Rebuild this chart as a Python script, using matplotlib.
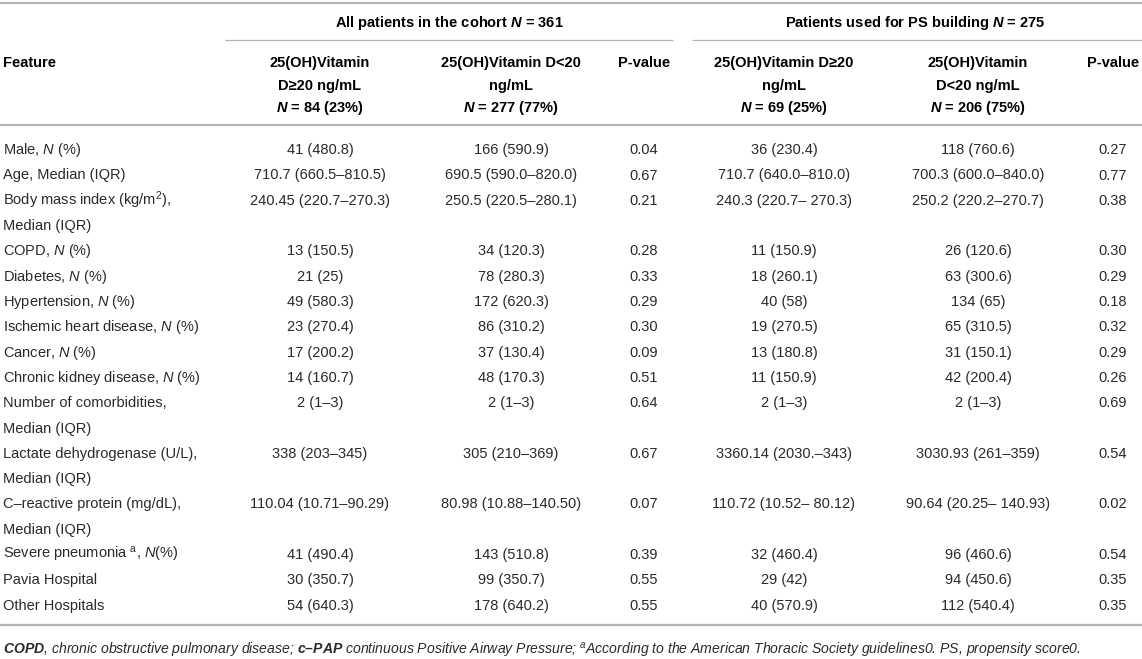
import matplotlib
matplotlib.use("Agg")
import matplotlib.pyplot as plt

plt.rcParams['font.family'] = ['Liberation Sans', 'DejaVu Sans']
plt.rcParams['mathtext.fontset'] = 'custom'
plt.rcParams['mathtext.rm'] = 'Liberation Sans'
plt.rcParams['mathtext.it'] = 'Liberation Sans:italic'
plt.rcParams['mathtext.bf'] = 'Liberation Sans:bold'
plt.rcParams['mathtext.bfit'] = 'Liberation Sans:italic:bold'

# ---------------- data ----------------
group_headers = ["All patients in the cohort $\\mathbfit{N}$ = 361",
                 "Patients used for PS building $\\mathbfit{N}$ = 275"]
col_headers = ["Feature",
               "25(OH)Vitamin\nD≥20 ng/mL\n$\\mathbfit{N}$ = 84 (23%)",
               "25(OH)Vitamin D<20\nng/mL\n$\\mathbfit{N}$ = 277 (77%)",
               "P-value",
               "25(OH)Vitamin D≥20\nng/mL\n$\\mathbfit{N}$ = 69 (25%)",
               "25(OH)Vitamin\nD<20 ng/mL\n$\\mathbfit{N}$ = 206 (75%)",
               "P-value"]
features = ["Male, $N$ (%)",
            "Age, Median (IQR)",
            "Body mass index (kg/m$^2$),\nMedian (IQR)",
            "COPD, $N$ (%)",
            "Diabetes, $N$ (%)",
            "Hypertension, $N$ (%)",
            "Ischemic heart disease, $N$ (%)",
            "Cancer, $N$ (%)",
            "Chronic kidney disease, $N$ (%)",
            "Number of comorbidities,\nMedian (IQR)",
            "Lactate dehydrogenase (U/L),\nMedian (IQR)",
            "C–reactive protein (mg/dL),\nMedian (IQR)",
            "Severe pneumonia $^\\mathrm{a}$, $N$(%)",
            "Pavia Hospital",
            "Other Hospitals"]
vit_hi_all = ["41 (480.8)", "710.7 (660.5–810.5)", "240.45 (220.7–270.3)", "13 (150.5)",
              "21 (25)", "49 (580.3)", "23 (270.4)", "17 (200.2)", "14 (160.7)", "2 (1–3)",
              "338 (203–345)", "110.04 (10.71–90.29)", "41 (490.4)", "30 (350.7)", "54 (640.3)"]
vit_lo_all = ["166 (590.9)", "690.5 (590.0–820.0)", "250.5 (220.5–280.1)", "34 (120.3)",
              "78 (280.3)", "172 (620.3)", "86 (310.2)", "37 (130.4)", "48 (170.3)", "2 (1–3)",
              "305 (210–369)", "80.98 (10.88–140.50)", "143 (510.8)", "99 (350.7)", "178 (640.2)"]
p_all = ["0.04", "0.67", "0.21", "0.28", "0.33", "0.29", "0.30", "0.09", "0.51", "0.64",
         "0.67", "0.07", "0.39", "0.55", "0.55"]
vit_hi_ps = ["36 (230.4)", "710.7 (640.0–810.0)", "240.3 (220.7– 270.3)", "11 (150.9)",
             "18 (260.1)", "40 (58)", "19 (270.5)", "13 (180.8)", "11 (150.9)", "2 (1–3)",
             "3360.14 (2030.–343)", "110.72 (10.52– 80.12)", "32 (460.4)", "29 (42)", "40 (570.9)"]
vit_lo_ps = ["118 (760.6)", "700.3 (600.0–840.0)", "250.2 (220.2–270.7)", "26 (120.6)",
             "63 (300.6)", "134 (65)", "65 (310.5)", "31 (150.1)", "42 (200.4)", "2 (1–3)",
             "3030.93 (261–359)", "90.64 (20.25– 140.93)", "96 (460.6)", "94 (450.6)", "112 (540.4)"]
p_ps = ["0.27", "0.77", "0.38", "0.30", "0.29", "0.18", "0.32", "0.29", "0.26", "0.69",
        "0.54", "0.02", "0.54", "0.35", "0.35"]
footnote = ("$\\mathbfit{COPD}$, chronic obstructive pulmonary disease; $\\mathbfit{c–PAP}$ "
            "continuous Positive Airway Pressure; $^\\mathit{a}$According to the American "
            "Thoracic Society guidelines0. PS, propensity score0.")

# ---------------- layout ----------------
W, H = 1142, 659
fig = plt.figure(figsize=(W / 100, H / 100), dpi=100)
ax = fig.add_axes([0, 0, 1, 1])
ax.set_xlim(0, W)
ax.set_ylim(H, 0)
ax.axis('off')

FS = 10.5
body_color = '#2a2a2a'
rule_color = '#b4b4b4'
col_x = [3, 320, 511, 644, 784, 978, 1113]
col_ha = ['left'] + ['center'] * 6
base_off = 5.2


def lines_text(x, yc, text, ha, step, **kw):
    for i, line in enumerate(text.split('\n')):
        ax.text(x, yc + i * step + base_off, line, ha=ha, va='baseline', **kw)


# rules
ax.plot([0, W], [3, 3], color=rule_color, lw=1.6, solid_capstyle='butt')
ax.plot([225, 673], [39.5, 39.5], color=rule_color, lw=0.9, solid_capstyle='butt')
ax.plot([692, W], [39.5, 39.5], color=rule_color, lw=0.9, solid_capstyle='butt')
ax.plot([0, W], [125, 125], color=rule_color, lw=1.6, solid_capstyle='butt')

# group headers
ax.text(449, 22 + base_off, group_headers[0], ha='center', va='baseline',
        fontsize=FS, fontweight='bold', color='black')
ax.text(915, 22 + base_off, group_headers[1], ha='center', va='baseline',
        fontsize=FS, fontweight='bold', color='black')

# column headers
for x, ha, t in zip(col_x, col_ha, col_headers):
    lines_text(x, 62, t, ha, 22.5, fontsize=FS, fontweight='bold', color='black')

# body
columns = [features, vit_hi_all, vit_lo_all, p_all, vit_hi_ps, vit_lo_ps, p_ps]
step = 25.3
y = 149
for r in range(len(features)):
    for x, ha, col in zip(col_x, col_ha, columns):
        lines_text(x, y, col[r], ha, step, fontsize=FS, color=body_color)
    nlines = features[r].count('\n') + 1
    y += nlines * step

bottom = y - step + 21
ax.plot([0, W], [bottom, bottom], color=rule_color, lw=1.6, solid_capstyle='butt')

ax.text(3, bottom + 24 + base_off, footnote, ha='left', va='baseline',
        fontsize=10.1, style='italic', color=body_color)

fig.savefig('out.png', dpi=100)
